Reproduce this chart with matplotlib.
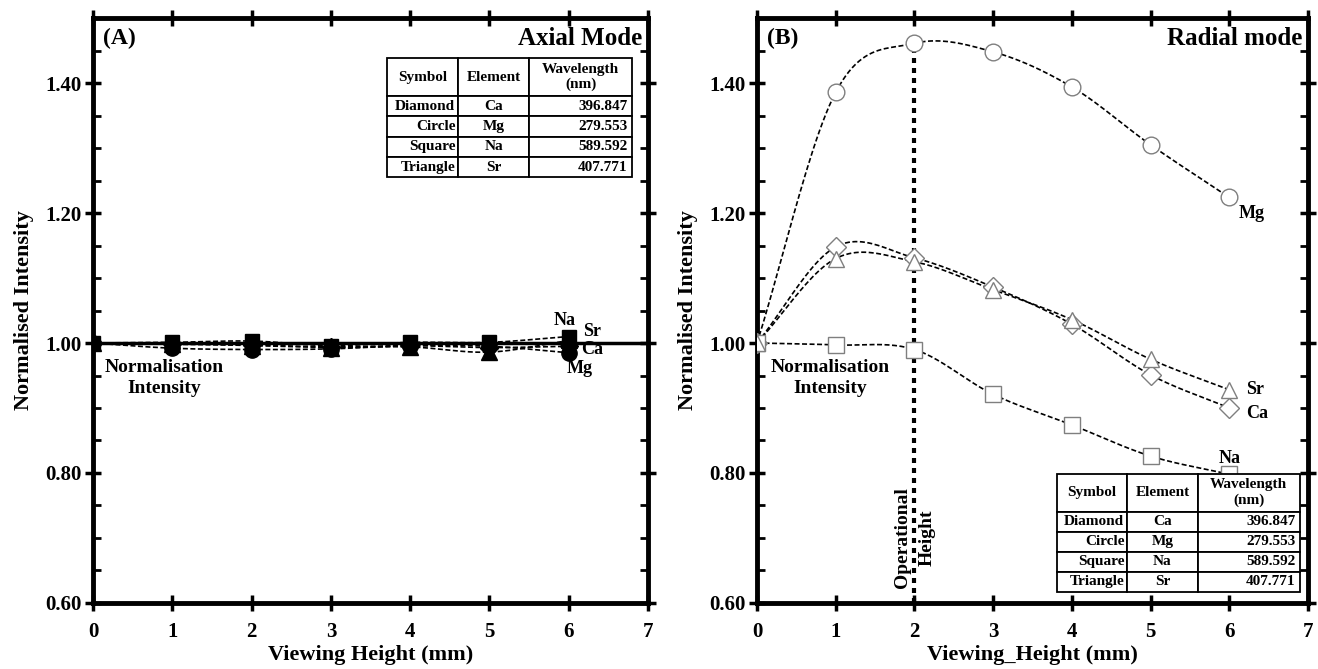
import numpy as np
import matplotlib
matplotlib.use('Agg')
import matplotlib.pyplot as plt
from matplotlib.ticker import MultipleLocator, FormatStrFormatter

plt.rcParams['font.family'] = ['Liberation Serif', 'DejaVu Serif']
plt.rcParams['font.weight'] = 'bold'

height = [0, 1, 2, 3, 4, 5, 6]

# panel A: axial mode
ca_ax = [1.000, 0.998, 0.997, 0.994, 0.996, 0.993, 0.995]
mg_ax = [1.000, 0.992, 0.990, 0.991, 0.996, 0.995, 0.985]
na_ax = [1.000, 1.001, 1.003, 0.996, 1.001, 1.001, 1.010]
sr_ax = [1.000, 0.999, 0.996, 0.993, 0.994, 0.986, 1.004]

# panel B: radial mode
ca_rad = [1.000, 1.148, 1.131, 1.086, 1.029, 0.951, 0.900]
mg_rad = [1.000, 1.386, 1.461, 1.448, 1.394, 1.305, 1.224]
na_rad = [1.000, 0.997, 0.990, 0.921, 0.874, 0.826, 0.798]
sr_rad = [1.000, 1.130, 1.125, 1.082, 1.036, 0.975, 0.928]

table_rows = [['Diamond', 'Ca', '396.847'],
              ['Circle', 'Mg', '279.553'],
              ['Square', 'Na', '589.592'],
              ['Triangle', 'Sr', '407.771']]
table_cols = ['Symbol', 'Element', 'Wavelength\n(nm)']


def smooth(x, y, n=24):
    # Catmull-Rom curve through the points, for drawing the line only
    x = np.asarray(x, float); y = np.asarray(y, float)
    px = np.r_[2*x[0]-x[1], x, 2*x[-1]-x[-2]]
    py = np.r_[2*y[0]-y[1], y, 2*y[-1]-y[-2]]
    t = np.linspace(0, 1, n, endpoint=False)[:, None]
    out = []
    for i in range(1, len(px)-2):
        P = np.array([[px[j], py[j]] for j in range(i-1, i+3)])
        seg = 0.5*((2*P[1]) + (-P[0]+P[2])*t + (2*P[0]-5*P[1]+4*P[2]-P[3])*t**2
                   + (-P[0]+3*P[1]-3*P[2]+P[3])*t**3)
        out.append(seg)
    out.append([[x[-1], y[-1]]])
    out = np.vstack(out)
    return out[:, 0], out[:, 1]


def style_axes(ax):
    for s in ax.spines.values():
        s.set_linewidth(3.5)
    ax.set_xlim(0, 7)
    ax.set_ylim(0.6, 1.5)
    ax.xaxis.set_major_locator(MultipleLocator(1))
    ax.yaxis.set_major_locator(MultipleLocator(0.2))
    ax.yaxis.set_minor_locator(MultipleLocator(0.05))
    ax.yaxis.set_major_formatter(FormatStrFormatter('%.2f'))
    ax.tick_params(which='major', direction='inout', length=12, width=2.5,
                   top=True, right=True, labelsize=15, pad=2)
    ax.tick_params(axis='x', which='major', pad=8)
    ax.tick_params(axis='y', which='minor', direction='in', length=6, width=2,
                   right=True)
    for lab in ax.get_xticklabels() + ax.get_yticklabels():
        lab.set_fontweight('bold')
    ax.set_ylabel('Normalised Intensity', fontsize=16, fontweight='bold', labelpad=8)


def add_table(ax, bbox):
    tb = ax.table(cellText=table_rows, colLabels=table_cols, bbox=bbox,
                  cellLoc='right', colWidths=[0.29, 0.29, 0.42])
    tb.auto_set_font_size(False)
    for (r, c), cell in tb.get_celld().items():
        cell.set_linewidth(1.3)
        cell.set_facecolor('white')
        txt = cell.get_text()
        txt.set_fontsize(11)
        txt.set_fontweight('bold')
        if r == 0:
            cell.set_height(cell.get_height()*1.9)
        if r == 0 or c == 1:
            cell._loc = 'center'
            txt.set_horizontalalignment('center')
        cell.PAD = 0.04
    tb.set_zorder(6)
    return tb


fig = plt.figure(figsize=(13.18, 6.69), dpi=100)
axA = fig.add_axes([0.0706, 0.0987, 0.4211, 0.8743])
axB = fig.add_axes([0.5744, 0.0987, 0.4180, 0.8743])

# ---- panel A
axA.axhline(1.0, color='black', lw=2.5, zorder=2)
for vals, mk, ms in [(ca_ax, 'D', 9), (mg_ax, 'o', 11), (na_ax, 's', 10), (sr_ax, '^', 11)]:
    sx, sy = smooth(height, vals)
    axA.plot(sx, sy, color='black', ls=(0, (3, 1.5)), lw=1.2, zorder=3)
    axA.plot(height, vals, mk, color='black', ms=ms, zorder=4)
style_axes(axA)
axA.set_xlabel('Viewing Height (mm)', fontsize=16, fontweight='bold', labelpad=2)
axA.text(0.12, 1.468, '(A)', fontsize=17, fontweight='bold', va='center')
axA.text(6.93, 1.468, 'Axial Mode', fontsize=18, fontweight='bold', va='center', ha='right')
axA.text(0.9, 0.946, 'Normalisation\nIntensity', fontsize=14, fontweight='bold',
         ha='center', va='center', linespacing=1.25)
axA.text(5.95, 1.034, 'Na', fontsize=13, fontweight='bold', ha='center', va='center')
axA.text(6.3, 1.018, 'Sr', fontsize=13, fontweight='bold', ha='center', va='center')
axA.text(6.3, 0.990, 'Ca', fontsize=13, fontweight='bold', ha='center', va='center')
axA.text(6.14, 0.961, 'Mg', fontsize=13, fontweight='bold', ha='center', va='center')
add_table(axA, [0.530, 0.728, 0.441, 0.204])

# ---- panel B
axB.vlines(2, 0.6, mg_rad[2], colors='black', linestyles=(0, (1.2, 1.2)), lw=3, zorder=2)
for vals, mk, ms in [(ca_rad, 'D', 10), (mg_rad, 'o', 12), (na_rad, 's', 11), (sr_rad, '^', 12)]:
    sx, sy = smooth(height, vals)
    axB.plot(sx, sy, color='black', ls=(0, (3, 1.5)), lw=1.2, zorder=3)
    axB.plot(height, vals, mk, mfc='white', mec='#7f7f7f', mew=1.0, ms=ms, zorder=4)
style_axes(axB)
axB.set_xlabel('Viewing_Height (mm)', fontsize=16, fontweight='bold', labelpad=2)
axB.text(0.12, 1.468, '(B)', fontsize=17, fontweight='bold', va='center')
axB.text(6.93, 1.468, 'Radial mode', fontsize=18, fontweight='bold', va='center', ha='right')
axB.text(0.93, 0.946, 'Normalisation\nIntensity', fontsize=14, fontweight='bold',
         ha='center', va='center', linespacing=1.25)
axB.text(6.28, 1.20, 'Mg', fontsize=13, fontweight='bold', ha='center', va='center')
axB.text(6.33, 0.928, 'Sr', fontsize=13, fontweight='bold', ha='center', va='center')
axB.text(6.35, 0.891, 'Ca', fontsize=13, fontweight='bold', ha='center', va='center')
axB.text(6.0, 0.823, 'Na', fontsize=13, fontweight='bold', ha='center', va='center')
axB.text(2.0, 0.70, 'Operational\nHeight', fontsize=14, fontweight='bold', rotation=90,
         ha='center', va='center', linespacing=1.6)
add_table(axB, [0.544, 0.019, 0.441, 0.202])

fig.savefig('out.png', dpi=100)
